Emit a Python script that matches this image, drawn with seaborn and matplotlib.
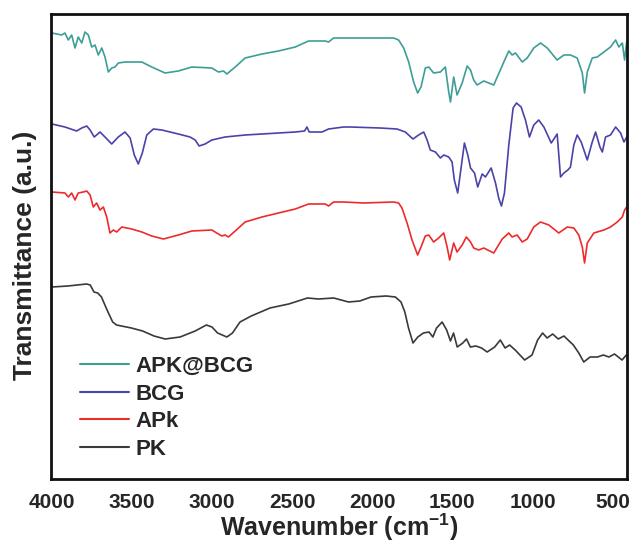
import numpy as np
import pandas as pd
import seaborn as sns
import matplotlib
matplotlib.use("Agg")
import matplotlib.pyplot as plt

# ---- data (wavenumber in cm^-1, transmittance in arbitrary units, traces stacked) ----
apkbcg_wn = [4000, 3939, 3919, 3898, 3877, 3856, 3836, 3814, 3794, 3773, 3752, 3731, 3711, 3689,
             3669, 3648, 3627, 3606, 3586, 3544, 3439, 3377, 3294, 3211, 3127, 3002, 2961, 2929,
             2908, 2856, 2794, 2689, 2586, 2481, 2398, 2294, 2273, 2242, 2179, 2054, 1867, 1836,
             1804, 1773, 1742, 1717, 1696, 1669, 1648, 1617, 1575, 1544, 1523, 1512, 1492, 1471,
             1439, 1408, 1387, 1367, 1346, 1304, 1242, 1179, 1148, 1127, 1106, 1064, 1033, 992,
             950, 908, 846, 804, 763, 721, 689, 675, 658, 627, 596, 554, 513, 481, 461, 439, 425, 412]
apkbcg_t = [447, 445, 447, 440, 445, 432, 443, 437, 448, 445, 433, 435, 425, 432,
            423, 408, 412, 413, 417, 418, 418, 413, 407, 409, 413, 412, 408, 409,
            406, 413, 422, 426, 429, 433, 439, 439, 438, 442, 442, 442, 442, 440,
            432, 418, 398, 387, 393, 412, 413, 407, 408, 413, 388, 378, 403, 385,
            397, 414, 410, 400, 395, 399, 395, 418, 429, 425, 427, 418, 422, 432,
            437, 432, 420, 425, 425, 422, 407, 387, 408, 422, 423, 428, 433, 440, 433, 437, 420, 438]

bcg_wn = [4000, 3919, 3846, 3814, 3783, 3762, 3736, 3700, 3669, 3627, 3586, 3544, 3512, 3486,
          3461, 3436, 3408, 3367, 3314, 3211, 3138, 3106, 3081, 3044, 3002, 2919, 2794, 2689,
          2586, 2481, 2423, 2408, 2394, 2314, 2273, 2179, 2137, 1950, 1846, 1794, 1746, 1711,
          1679, 1658, 1638, 1606, 1575, 1554, 1523, 1502, 1488, 1467, 1446, 1425, 1404, 1387,
          1362, 1342, 1314, 1294, 1258, 1231, 1211, 1194, 1175, 1148, 1121, 1100, 1071, 1044,
          1019, 992, 961, 929, 883, 846, 825, 804, 779, 763, 742, 721, 696, 658, 627, 606, 579,
          564, 544, 513, 481, 450, 429, 408]
bcg_t = [356, 353, 349, 352, 354, 350, 343, 348, 343, 336, 343, 348, 342, 325,
         316, 327, 345, 351, 350, 346, 343, 340, 334, 336, 340, 343, 345, 346,
         347, 348, 349, 353, 348, 348, 351, 353, 353, 352, 351, 348, 341, 345,
         348, 340, 330, 328, 322, 325, 323, 318, 300, 287, 312, 337, 325, 312,
         307, 293, 306, 303, 312, 297, 282, 274, 287, 335, 372, 377, 373, 360,
         343, 355, 360, 353, 337, 346, 303, 307, 310, 313, 335, 345, 338, 320, 338, 348, 333,
         328, 343, 345, 353, 347, 338, 344]

apk_wn = [4000, 3919, 3898, 3877, 3856, 3836, 3804, 3783, 3762, 3742, 3721, 3700, 3679, 3658,
          3638, 3617, 3596, 3564, 3502, 3439, 3377, 3304, 3211, 3127, 3002, 2961, 2939, 2919,
          2898, 2856, 2794, 2689, 2586, 2481, 2398, 2294, 2273, 2242, 2179, 2054, 1867, 1836,
          1815, 1783, 1752, 1717, 1696, 1669, 1648, 1617, 1586, 1554, 1533, 1517, 1492, 1471,
          1439, 1413, 1387, 1367, 1336, 1304, 1242, 1189, 1148, 1127, 1096, 1064, 1033, 992,
          950, 898, 836, 783, 742, 711, 689, 675, 658, 617, 554, 513, 471, 439, 425, 412]
apk_t = [288, 287, 283, 287, 280, 287, 288, 289, 285, 273, 277, 270, 273, 263,
         247, 250, 248, 253, 251, 248, 244, 241, 245, 249, 250, 246, 244, 245,
         243, 249, 258, 263, 267, 271, 276, 276, 274, 278, 278, 277, 278, 277,
         272, 257, 240, 225, 233, 244, 245, 238, 242, 247, 233, 220, 237, 228,
         235, 243, 238, 232, 230, 232, 227, 241, 247, 243, 245, 238, 241, 253,
         258, 255, 247, 253, 252, 245, 233, 217, 237, 247, 250, 253, 258, 263, 270, 273]

pk_wn = [4000, 3901, 3784, 3761, 3738, 3714, 3691, 3656, 3621, 3597, 3504, 3434, 3363, 3293,
         3200, 3106, 3036, 3001, 2966, 2908, 2873, 2826, 2756, 2639, 2522, 2405, 2335, 2241,
         2148, 2078, 2008, 1914, 1856, 1821, 1797, 1774, 1746, 1716, 1681, 1646, 1622, 1599,
         1564, 1536, 1512, 1493, 1470, 1435, 1412, 1388, 1353, 1318, 1283, 1236, 1201, 1171,
         1143, 1108, 1049, 1003, 968, 937, 909, 874, 839, 804, 745, 711, 680, 640, 594, 558,
         523, 488, 441, 414]
pk_t = [193, 194, 196, 195, 188, 187, 183, 170, 158, 155, 152, 149, 144, 141,
        143, 149, 155, 153, 147, 143, 147, 158, 164, 172, 176, 182, 181, 182,
        178, 179, 183, 184, 183, 178, 168, 152, 137, 143, 147, 148, 143, 152,
        158, 150, 139, 147, 133, 137, 141, 133, 134, 132, 128, 133, 140, 132,
        135, 130, 120, 125, 140, 147, 142, 146, 141, 144, 135, 127, 118, 123, 123, 125,
        123, 126, 120, 125]

series_names = ["APK@BCG", "BCG", "APk", "PK"]
series_colors = ["#3d9e95", "#4a43a8", "#ee2b2b", "#3a3a3a"]
xticks = [4000, 3500, 3000, 2500, 2000, 1500, 1000, 500]

# ---- build long table ----
frames = []
for name, wn, t in zip(series_names,
                       [apkbcg_wn, bcg_wn, apk_wn, pk_wn],
                       [apkbcg_t, bcg_t, apk_t, pk_t]):
    frames.append(pd.DataFrame({"wn": wn, "T": t, "sample": name}))
df = pd.concat(frames, ignore_index=True)

sns.set_style("white")
plt.rcParams["font.family"] = ["Liberation Sans", "DejaVu Sans"]
plt.rcParams["font.weight"] = "bold"
plt.rcParams["mathtext.fontset"] = "custom"
plt.rcParams["mathtext.rm"] = "Liberation Sans:bold"
plt.rcParams["mathtext.bf"] = "Liberation Sans:bold"
plt.rcParams["mathtext.default"] = "bf"

fig = plt.figure(figsize=(6.33, 5.44), dpi=100)
ax = fig.add_axes([51 / 633, 1 - 479 / 544, 576 / 633, 465 / 544])

sns.lineplot(data=df, x="wn", y="T", hue="sample", hue_order=series_names,
             palette=series_colors, estimator=None, sort=False, linewidth=1.2, ax=ax)

ax.set_xlim(4006, 410)
ax.set_ylim(1, 466)
ax.set_xticks(xticks)
ax.set_xticklabels([str(v) for v in xticks], fontsize=15, fontweight="bold")
ax.set_yticks([])
ax.tick_params(axis="x", length=0, pad=10)
for s in ax.spines.values():
    s.set_color("#111111")
    s.set_linewidth(2)

ax.set_xlabel("Wavenumber (cm$^{-1}$)", fontsize=18, fontweight="bold", labelpad=0)
ax.set_ylabel("Transmittance (a.u.)", fontsize=19, fontweight="bold")
ax.yaxis.set_label_coords(-0.0243, 0.48)

leg = ax.legend(loc="lower left", bbox_to_anchor=(0.035, 0.022), frameon=False,
                handlelength=2.2, handletextpad=0.3, labelspacing=0.3,
                borderaxespad=0, prop={"weight": "bold", "size": 16})
for line in leg.get_lines():
    line.set_linewidth(1.5)

fig.savefig("out.png", dpi=100)
